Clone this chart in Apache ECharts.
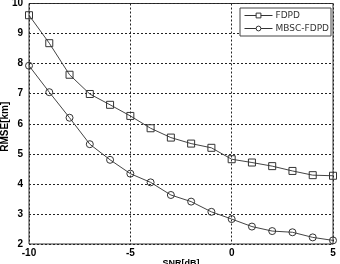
<!DOCTYPE html>
<html><head><meta charset="utf-8">
<script src="https://cdn.jsdelivr.net/npm/echarts@6/dist/echarts.min.js"></script>
<style>html,body{margin:0;padding:0;background:#fff}#c{width:340px;height:264px}</style>
</head><body><div id="c"></div>
<script>
const snr = [-10,-9,-8,-7,-6,-5,-4,-3,-2,-1,0,1,2,3,4,5];
const fdpd = [9.61,8.68,7.63,6.99,6.63,6.26,5.85,5.54,5.34,5.20,4.82,4.71,4.59,4.43,4.29,4.27];
const mbsc = [7.93,7.05,6.20,5.32,4.80,4.34,4.05,3.63,3.41,3.07,2.83,2.58,2.43,2.39,2.22,2.12];
const seriesNames = ['FDPD','MBSC-FDPD'];
const xTicks = [-10,-5,0,5];

const chart = echarts.init(document.getElementById('c'), null, {renderer:'canvas'});
const pair = (ys) => snr.map((x,i)=>[x, ys[i]]);
const tickFont = {color:'#000', fontFamily:'Liberation Sans, Arial', fontWeight:'bold', fontSize:10};
chart.setOption({
  animation:false,
  backgroundColor:'#fff',
  grid:{left:29, right:7, top:3.5, bottom:20, outerBoundsMode:'none', containLabel:false,
    show:true, borderColor:'#333', borderWidth:1, backgroundColor:'transparent'},
  xAxis:{type:'value', min:-10, max:5, interval:5,
    name:'SNR[dB]', nameLocation:'middle', nameGap:15, nameMoveOverlap:false,
    nameTextStyle:{color:'#000', fontFamily:'Liberation Sans, Arial', fontWeight:'bold', fontSize:9},
    axisLine:{show:false}, axisTick:{show:false},
    axisLabel:Object.assign({margin:4, formatter:v=>xTicks.includes(v)?String(v):''}, tickFont),
    splitLine:{show:true, lineStyle:{color:'#222', type:[2,2], width:1}}},
  yAxis:{type:'value', min:2, max:10, interval:1,
    name:'RMSE[km]', nameLocation:'middle', nameGap:19, nameRotate:90, nameMoveOverlap:false,
    nameTextStyle:{color:'#000', fontFamily:'Liberation Sans, Arial', fontWeight:'bold', fontSize:10, padding:[0,6,0,0]},
    axisLine:{show:false}, axisTick:{show:false},
    axisLabel:Object.assign({margin:6}, tickFont),
    splitLine:{show:true, lineStyle:{color:'#222', type:[2,2], width:1}}},
  legend:{show:true, right:9, top:8, orient:'vertical', itemGap:4, itemWidth:28, itemHeight:6,
    padding:[3,2,3,4], backgroundColor:'#fff', borderColor:'#444', borderWidth:1,
    itemStyle:{color:'#fff', borderColor:'#333', borderWidth:1},
    lineStyle:{color:'#333', width:1},
    textStyle:{color:'#333', fontFamily:'DejaVu Sans', fontSize:9, padding:[0,0,0,-2]},
    data:seriesNames},
  series:[
    {name:seriesNames[0], type:'line', data:pair(fdpd), symbol:'rect', symbolSize:7,
     lineStyle:{color:'#444', width:1}, itemStyle:{color:'none', borderColor:'#333', borderWidth:1}},
    {name:seriesNames[1], type:'line', data:pair(mbsc), symbol:'circle', symbolSize:7,
     lineStyle:{color:'#444', width:1}, itemStyle:{color:'none', borderColor:'#333', borderWidth:1}}
  ]
});
</script></body></html>
